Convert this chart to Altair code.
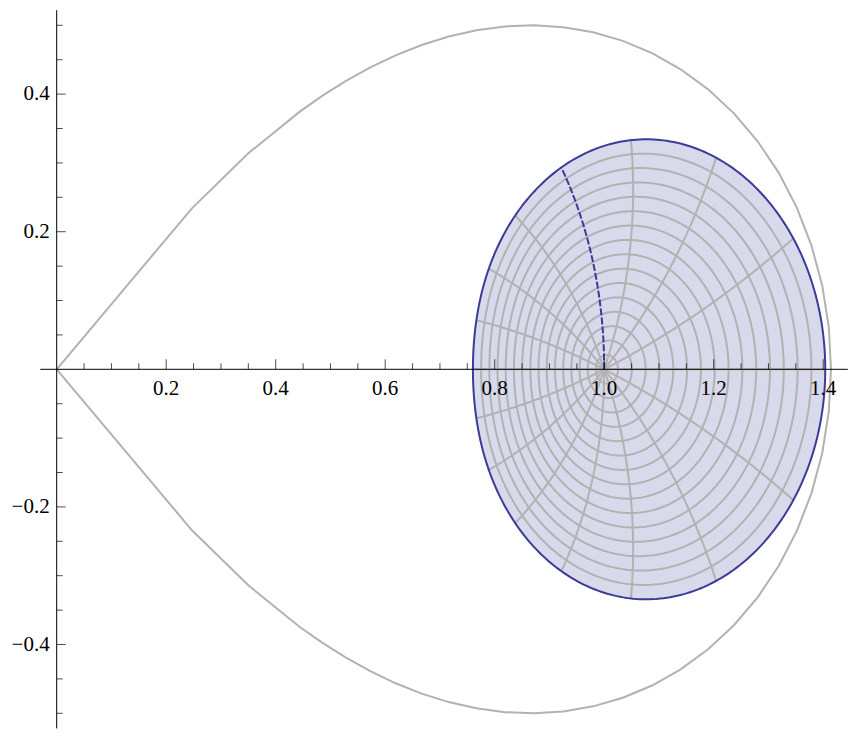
import numpy as np
import pandas as pd
import altair as alt

# ---------------- data ----------------
# outer teardrop curve, upper half, from the origin round to the right end
outer_x = [0.0, 0.247, 0.350, 0.444, 0.4855, 0.5284, 0.5729, 0.6190, 0.6667, 0.7159, 0.7666,
           0.8186, 0.8717, 0.9255, 0.9798, 1.0340, 1.0875, 1.1397, 1.1897, 1.2369, 1.2803,
           1.3189, 1.3520, 1.3786, 1.3982, 1.4102, 1.4142]
outer_y = [0.0, 0.234, 0.314, 0.3745, 0.3977, 0.4192, 0.4388, 0.4564, 0.4714, 0.4837, 0.4927,
           0.4983, 0.5000, 0.4973, 0.4899, 0.4774, 0.4596, 0.4361, 0.4069, 0.3720, 0.3314,
           0.2855, 0.2347, 0.1799, 0.1219, 0.0615, 0.0]

# inner region: centre, the direction each mesh spoke leaves the centre (deg),
# and the edge point where that spoke ends (upper half, 0..180 deg)
center_x, center_y = 1.0, 0.0
spoke_angle_deg = [0, 22.5, 45, 67.5, 90, 112.5, 135, 157.5, 180]
edge_x = [1.402, 1.345, 1.204, 1.049, 0.922, 0.837, 0.788, 0.764, 0.759]
edge_y = [0.0, 0.190, 0.307, 0.334, 0.292, 0.224, 0.147, 0.072, 0.0]
ring_count = 16          # mesh rings (last one is the edge)
seam_angle_deg = 90      # spoke drawn in the edge colour

# axes
x_axis_span = [-0.03, 1.445]
y_axis_span = [-0.522, 0.522]
x_major = [0.2, 0.4, 0.6, 0.8, 1.0, 1.2, 1.4]
x_major_labels = ["0.2", "0.4", "0.6", "0.8", "1.0", "1.2", "1.4"]
x_minor = [0.05, 0.1, 0.15, 0.25, 0.3, 0.35, 0.45, 0.5, 0.55, 0.65, 0.7, 0.75,
           0.85, 0.9, 0.95, 1.05, 1.1, 1.15, 1.25, 1.3, 1.35]
y_major = [-0.4, -0.2, 0.2, 0.4]
y_major_labels = ["\u22120.4", "\u22120.2", "0.2", "0.4"]
y_minor = [-0.5, -0.45, -0.35, -0.3, -0.25, -0.15, -0.1, -0.05,
           0.05, 0.1, 0.15, 0.25, 0.3, 0.35, 0.45, 0.5]

# ---------------- edge curve through the read edge points ----------------
TWO_PI = 2 * np.pi
ex = np.array(edge_x)
ey = np.array(edge_y)
mirror = slice(-2, 0, -1)
zb = np.concatenate([ex + 1j * ey, (ex - 1j * ey)[mirror]])
c0 = complex(center_x, center_y)
coef = np.fft.fft(zb - c0) / len(zb)
phi = np.linspace(0, TWO_PI, 1441)
edge_curve = c0 + sum(coef[n] * np.exp(1j * n * phi) for n in range(1, 6))
alpha_e = np.mod(np.angle(edge_curve - c0), TWO_PI)
radius_e = np.abs(edge_curve - c0)
order_e = np.argsort(alpha_e)
alpha_e, radius_e = alpha_e[order_e], radius_e[order_e]


def edge_radius(alpha):
    return np.interp(np.mod(alpha, TWO_PI), alpha_e, radius_e, period=TWO_PI)


def point(t, alpha):
    return c0 + t * edge_radius(alpha) * np.exp(1j * alpha)


# rings: every ring is the edge scaled about the centre
alpha_dense = np.linspace(0, TWO_PI, 361)
ring_rows = []
for k in range(1, ring_count + 1):
    z = point(k / ring_count, alpha_dense)
    for i, v in enumerate(z):
        ring_rows.append({"x": v.real, "y": v.imag, "ring": k, "idx": i,
                          "edge": k == ring_count})
rings = pd.DataFrame(ring_rows)

# spokes: leave the centre at their mesh angle and turn steadily to their read end point
start_deg = list(spoke_angle_deg) + [360 - a for a in spoke_angle_deg[mirror]]
end_pts = list(zb)
t_dense = np.linspace(0, 1, 81)
spoke_rows = []
for j, (a0, zend) in enumerate(zip(start_deg, end_pts)):
    th0 = np.deg2rad(a0)
    th1 = np.angle(zend - c0)
    turn = (th1 - th0 + np.pi) % TWO_PI - np.pi
    z = point(t_dense, th0 + turn * t_dense)
    seam = abs(a0 - seam_angle_deg) < 1e-6
    for i, v in enumerate(z):
        spoke_rows.append({"x": v.real, "y": v.imag, "spoke": j, "idx": i, "seam": seam})
spokes = pd.DataFrame(spoke_rows)

# fill: upper edge with its mirror image below
alpha_half = np.linspace(0, np.pi, 361)
zh = point(1.0, alpha_half)
fill_df = pd.DataFrame({"x": zh.real, "top": zh.imag, "bot": -zh.imag}).sort_values("x")

ox = list(outer_x) + list(outer_x[-2::-1])
oy = list(outer_y) + [-v for v in outer_y[-2::-1]]
outer = pd.DataFrame({"x": ox, "y": oy, "idx": range(len(ox))})

# ---------------- scales / layout ----------------
W, H = 842, 725
px_per_x, px_per_y = 547.5, 688.0
x_lo = -48.7 / px_per_x
x_hi = x_lo + W / px_per_x
y_hi = 361.3 / px_per_y
y_lo = y_hi - H / px_per_y
xs = alt.Scale(domain=[x_lo, x_hi], nice=False, zero=False)
ys = alt.Scale(domain=[y_lo, y_hi], nice=False, zero=False)


def X(f="x"):
    return alt.X(f"{f}:Q", scale=xs, axis=None)


def Y(f="y"):
    return alt.Y(f"{f}:Q", scale=ys, axis=None)


GRAY = "#b2b2b2"
NAVY = "#3b3b98"
FILL = "#d9d9ec"
FONT = "Liberation Serif"

fill = alt.Chart(fill_df).mark_area(color=FILL, opacity=1, strokeWidth=0).encode(
    x=X(), y=alt.Y("top:Q", scale=ys, axis=None, stack=None), y2=alt.Y2("bot"))

ring_lines = alt.Chart(rings[~rings.edge]).mark_line(color=GRAY, strokeWidth=2).encode(
    x=X(), y=Y(), detail="ring:N", order="idx:Q")
spoke_lines = alt.Chart(spokes[~spokes.seam]).mark_line(color=GRAY, strokeWidth=2).encode(
    x=X(), y=Y(), detail="spoke:N", order="idx:Q")
seam_line = alt.Chart(spokes[spokes.seam]).mark_line(color=NAVY, strokeWidth=2,
                                                     strokeDash=[7, 2]).encode(
    x=X(), y=Y(), order="idx:Q")
edge_line = alt.Chart(rings[rings.edge]).mark_line(color=NAVY, strokeWidth=2).encode(
    x=X(), y=Y(), order="idx:Q")
outer_line = alt.Chart(outer).mark_line(color=GRAY, strokeWidth=2).encode(
    x=X(), y=Y(), order="idx:Q")

x_axis = alt.Chart(pd.DataFrame({"a": [x_axis_span[0]], "b": [x_axis_span[1]], "y": [0.0]})).mark_rule(
    color="black", strokeWidth=1).encode(x=X("a"), x2="b:Q", y=Y())
y_axis = alt.Chart(pd.DataFrame({"a": [y_axis_span[0]], "b": [y_axis_span[1]], "x": [0.0]})).mark_rule(
    color="black", strokeWidth=1).encode(y=Y("a"), y2="b:Q", x=X())

xmaj = pd.DataFrame({"x": x_major, "y": 0.0, "label": x_major_labels})
ymaj = pd.DataFrame({"y": y_major, "x": 0.0, "label": y_major_labels})
xmin_df = pd.DataFrame({"x": x_minor, "y": 0.0})
ymin_df = pd.DataFrame({"y": y_minor, "x": 0.0})

xt_major = alt.Chart(xmaj).mark_tick(orient="vertical", size=10, thickness=1, color="black",
                                     yOffset=-5).encode(x=X(), y=Y())
xt_minor = alt.Chart(xmin_df).mark_tick(orient="vertical", size=6, thickness=1, color="black",
                                        yOffset=-3).encode(x=X(), y=Y())
yt_major = alt.Chart(ymaj).mark_tick(orient="horizontal", size=9, thickness=1, color="black",
                                     xOffset=4.5).encode(x=X(), y=Y())
yt_minor = alt.Chart(ymin_df).mark_tick(orient="horizontal", size=6, thickness=1, color="black",
                                        xOffset=3).encode(x=X(), y=Y())
x_labels = alt.Chart(xmaj).mark_text(font=FONT, fontSize=21, dy=20, baseline="middle",
                                     align="center", color="black").encode(x=X(), y=Y(), text="label:N")
y_labels = alt.Chart(ymaj).mark_text(font=FONT, fontSize=21, dx=-7, baseline="middle",
                                     align="right", color="black").encode(x=X(), y=Y(), text="label:N")

chart = alt.layer(
    fill, ring_lines, spoke_lines, seam_line, edge_line, outer_line,
    x_axis, y_axis, xt_major, xt_minor, yt_major, yt_minor, x_labels, y_labels,
).properties(width=W, height=H, padding=0, autosize="none").configure_view(strokeWidth=0)

chart.save("out.html", embed_options={"renderer": "svg", "actions": False})
